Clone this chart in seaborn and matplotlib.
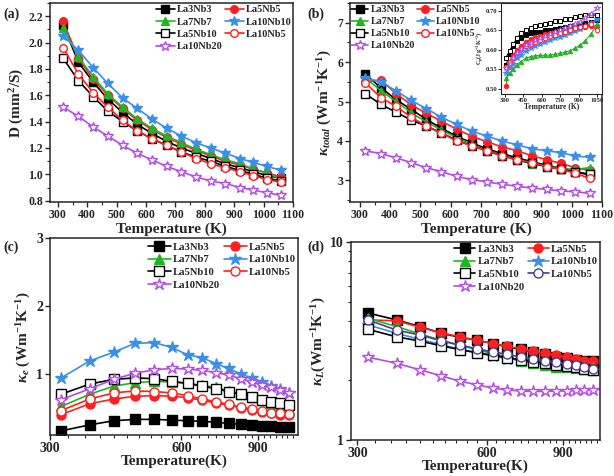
import numpy as np
import pandas as pd
import matplotlib
matplotlib.use("Agg")
import matplotlib.pyplot as plt
import seaborn as sns
from matplotlib.ticker import MultipleLocator, FixedLocator, NullFormatter, FormatStrFormatter, LogLocator

sns.set_style("ticks")
plt.rcParams['font.family'] = ['Liberation Serif', 'DejaVu Serif']
plt.rcParams['font.weight'] = 'bold'
plt.rcParams['mathtext.fontset'] = 'custom'
plt.rcParams['mathtext.rm'] = 'Liberation Serif:bold'
plt.rcParams['mathtext.it'] = 'Liberation Serif:bold:italic'
plt.rcParams['mathtext.bf'] = 'Liberation Serif:bold'

names = ["La3Nb3", "La5Nb5", "La7Nb7", "La10Nb10", "La5Nb10", "La10Nb5", "La10Nb20"]

# Temperatures (K)
T = [318, 370, 420, 470, 520, 570, 620, 670, 720, 770, 820, 870, 920, 965, 1012, 1060]
T_cp = [310, 340, 370, 400, 430, 470, 510, 550, 590, 630, 670, 710, 750, 790, 830, 870, 910, 950, 1000, 1050]

# (a) thermal diffusivity D (mm^2/s)
D_La3Nb3 = [2.13, 1.85, 1.70, 1.57, 1.47, 1.38, 1.31, 1.25, 1.20, 1.16, 1.12, 1.08, 1.05, 1.02, 0.99, 0.97]
D_La5Nb5 = [2.16, 1.88, 1.72, 1.60, 1.50, 1.41, 1.34, 1.28, 1.23, 1.18, 1.14, 1.10, 1.07, 1.04, 1.01, 0.98]
D_La7Nb7 = [2.11, 1.89, 1.74, 1.61, 1.51, 1.42, 1.35, 1.29, 1.24, 1.19, 1.15, 1.11, 1.08, 1.04, 1.01, 0.96]
D_La10Nb10 = [2.05, 1.94, 1.81, 1.69, 1.58, 1.50, 1.42, 1.35, 1.29, 1.24, 1.20, 1.16, 1.12, 1.09, 1.06, 1.03]
D_La5Nb10 = [1.88, 1.71, 1.59, 1.48, 1.40, 1.33, 1.27, 1.22, 1.17, 1.13, 1.10, 1.06, 1.03, 1.00, 0.97, 0.95]
D_La10Nb5 = [1.96, 1.76, 1.62, 1.51, 1.41, 1.33, 1.27, 1.22, 1.17, 1.12, 1.08, 1.05, 1.02, 0.99, 0.96, 0.94]
D_La10Nb20 = [1.51, 1.44, 1.36, 1.29, 1.22, 1.16, 1.11, 1.06, 1.02, 0.98, 0.95, 0.93, 0.90, 0.88, 0.86, 0.84]

# (b) total thermal conductivity
K_La3Nb3 = [5.70, 5.35, 5.05, 4.80, 4.55, 4.32, 4.12, 3.95, 3.80, 3.68, 3.57, 3.47, 3.38, 3.30, 3.22, 3.15]
K_La5Nb5 = [5.50, 5.55, 5.20, 4.92, 4.70, 4.50, 4.30, 4.12, 3.98, 3.85, 3.75, 3.62, 3.52, 3.43, 3.32, 3.25]
K_La7Nb7 = [5.60, 5.28, 5.00, 4.72, 4.48, 4.28, 4.08, 3.92, 3.75, 3.62, 3.52, 3.42, 3.35, 3.30, 3.28, 3.32]
K_La10Nb10 = [5.60, 5.50, 5.27, 5.03, 4.82, 4.60, 4.42, 4.25, 4.12, 4.00, 3.90, 3.80, 3.75, 3.70, 3.62, 3.58]
K_La5Nb10 = [5.20, 4.93, 4.73, 4.53, 4.38, 4.20, 4.02, 3.88, 3.75, 3.63, 3.52, 3.43, 3.35, 3.28, 3.20, 3.15]
K_La10Nb5 = [5.48, 5.10, 4.88, 4.60, 4.38, 4.20, 4.00, 3.88, 3.75, 3.62, 3.52, 3.45, 3.35, 3.28, 3.18, 3.05]
K_La10Nb20 = [3.75, 3.68, 3.57, 3.45, 3.32, 3.22, 3.10, 3.02, 2.96, 2.90, 2.85, 2.80, 2.77, 2.73, 2.71, 2.67]

# (b inset) heat capacity Cp
Cp_La3Nb3 = [0.560, 0.590, 0.610, 0.622, 0.630, 0.637, 0.642, 0.645, 0.647, 0.650, 0.652, 0.654, 0.656, 0.658, 0.660, 0.662, 0.665, 0.668, 0.671, 0.676]
Cp_La5Nb5 = [0.508, 0.570, 0.588, 0.600, 0.610, 0.620, 0.627, 0.632, 0.636, 0.640, 0.643, 0.645, 0.648, 0.650, 0.652, 0.654, 0.656, 0.658, 0.660, 0.662]
Cp_La7Nb7 = [0.527, 0.540, 0.552, 0.562, 0.570, 0.578, 0.583, 0.585, 0.586, 0.586, 0.587, 0.589, 0.591, 0.594, 0.598, 0.604, 0.612, 0.622, 0.640, 0.665]
Cp_La10Nb10 = [0.540, 0.553, 0.565, 0.578, 0.588, 0.598, 0.605, 0.610, 0.615, 0.620, 0.625, 0.630, 0.634, 0.638, 0.643, 0.648, 0.653, 0.660, 0.668, 0.678]
Cp_La5Nb10 = [0.580, 0.598, 0.615, 0.630, 0.642, 0.650, 0.656, 0.660, 0.664, 0.667, 0.670, 0.673, 0.675, 0.678, 0.680, 0.683, 0.686, 0.688, 0.690, 0.688]
Cp_La10Nb5 = [0.555, 0.568, 0.580, 0.592, 0.602, 0.610, 0.616, 0.621, 0.626, 0.630, 0.635, 0.639, 0.643, 0.647, 0.651, 0.655, 0.659, 0.662, 0.665, 0.650]
Cp_La10Nb20 = [0.553, 0.565, 0.578, 0.592, 0.602, 0.612, 0.618, 0.624, 0.630, 0.635, 0.640, 0.645, 0.650, 0.655, 0.660, 0.666, 0.672, 0.682, 0.692, 0.706]

# (c) electronic thermal conductivity
Ke_La3Nb3 = [0.16, 0.25, 0.31, 0.33, 0.33, 0.32, 0.31, 0.30, 0.29, 0.27, 0.26, 0.25, 0.24, 0.23, 0.22, 0.22]
Ke_La5Nb5 = [0.40, 0.56, 0.63, 0.67, 0.68, 0.67, 0.65, 0.61, 0.57, 0.54, 0.50, 0.47, 0.44, 0.42, 0.40, 0.39]
Ke_La7Nb7 = [0.52, 0.70, 0.82, 0.87, 0.89, 0.88, 0.86, 0.83, 0.80, 0.75, 0.71, 0.66, 0.62, 0.57, 0.53, 0.48]
Ke_La10Nb10 = [0.94, 1.19, 1.32, 1.45, 1.46, 1.39, 1.28, 1.24, 1.15, 1.08, 1.00, 0.94, 0.88, 0.82, 0.77, 0.72]
Ke_La5Nb10 = [0.70, 0.85, 0.92, 0.94, 0.93, 0.89, 0.86, 0.82, 0.78, 0.74, 0.70, 0.66, 0.62, 0.59, 0.57, 0.54]
Ke_La10Nb5 = [0.46, 0.63, 0.72, 0.75, 0.74, 0.72, 0.68, 0.63, 0.59, 0.55, 0.51, 0.48, 0.45, 0.43, 0.42, 0.41]
Ke_La10Nb20 = [0.62, 0.78, 0.92, 1.01, 1.06, 1.08, 1.07, 1.05, 1.02, 0.98, 0.93, 0.88, 0.84, 0.80, 0.76, 0.72]

# (d) lattice thermal conductivity
KL_La3Nb3 = [4.38, 4.04, 3.74, 3.46, 3.30, 3.19, 3.07, 2.95, 2.87, 2.78, 2.71, 2.64, 2.59, 2.55, 2.52, 2.50]
KL_La5Nb5 = [4.04, 4.00, 3.71, 3.48, 3.32, 3.19, 3.07, 2.97, 2.89, 2.80, 2.75, 2.68, 2.62, 2.57, 2.52, 2.50]
KL_La7Nb7 = [4.12, 3.74, 3.43, 3.19, 3.01, 2.86, 2.73, 2.62, 2.52, 2.44, 2.39, 2.35, 2.33, 2.30, 2.29, 2.26]
KL_La10Nb10 = [3.81, 3.46, 3.22, 3.03, 2.87, 2.75, 2.65, 2.58, 2.52, 2.47, 2.42, 2.40, 2.37, 2.35, 2.33, 2.31]
KL_La5Nb10 = [3.62, 3.32, 3.16, 2.99, 2.86, 2.76, 2.68, 2.60, 2.54, 2.49, 2.45, 2.40, 2.36, 2.33, 2.29, 2.26]
KL_La10Nb5 = [4.04, 3.59, 3.39, 3.17, 3.01, 2.89, 2.78, 2.71, 2.62, 2.57, 2.52, 2.47, 2.42, 2.38, 2.33, 2.29]
KL_La10Nb20 = [2.62, 2.44, 2.26, 2.11, 1.98, 1.90, 1.83, 1.79, 1.77, 1.76, 1.76, 1.77, 1.77, 1.78, 1.79, 1.79]

BLACK = "#000000"
RED = "#FF1F1F"
GREEN = "#22B422"
BLUE = "#3A8FEA"
PURPLE = "#B44AE8"
NAVY = "#4A3D8F"

# style: (color, marker, filled)
style = {
    "La3Nb3": (BLACK, "s", True),
    "La5Nb5": (RED, "o", True),
    "La7Nb7": (GREEN, "^", True),
    "La10Nb10": (BLUE, "*", True),
    "La5Nb10": (BLACK, "s", False),
    "La10Nb5": (RED, "o", False),
    "La10Nb20": (PURPLE, "*", False),
}

fig = plt.figure(figsize=(6.14, 4.76), dpi=100)
axA = fig.add_axes([0.0814, 0.5756, 0.3958, 0.418])
axB = fig.add_axes([0.570, 0.5756, 0.4104, 0.418])
axC = fig.add_axes([0.0814, 0.0861, 0.4039, 0.4139])
axD = fig.add_axes([0.5717, 0.0756, 0.4055, 0.416])
axI = fig.add_axes([0.8160, 0.8025, 0.1644, 0.1912])


def draw(ax, xs, series, ms=6, lw=1.2, override=None, mew=1.0):
    handles = {}
    for nm in names:
        col, mk, filled = style[nm]
        if override and nm in override:
            col = override[nm]
        size = ms * (1.35 if mk == "*" else 1.0)
        df = pd.DataFrame({"T": xs, "v": series[nm]})
        sns.lineplot(data=df, x="T", y="v", ax=ax, color=col, marker=mk,
                     markersize=size, markeredgecolor=col,
                     markerfacecolor=(col if filled else "white"),
                     markeredgewidth=mew, linewidth=lw, legend=False,
                     errorbar=None, sort=False)
        handles[nm] = ax.lines[-1]
    return handles


def legend(ax, handles, loc, bbox, fs=8, hl=1.9, cs=0.3):
    order = ["La3Nb3", "La7Nb7", "La5Nb10", "La10Nb20", "La5Nb5", "La10Nb10", "La10Nb5"]
    leg = ax.legend([handles[n] for n in order], order, ncol=2, loc=loc,
                    bbox_to_anchor=bbox, frameon=False, fontsize=fs,
                    handlelength=hl, handletextpad=0.2, columnspacing=cs,
                    labelspacing=0.3, borderaxespad=0.2, borderpad=0.2)
    for t in leg.get_texts():
        t.set_fontweight("bold")


def style_axes(ax, tfs=8.5):
    for s in ax.spines.values():
        s.set_linewidth(1.1)
        s.set_visible(True)
    ax.tick_params(which="major", direction="out", length=3.5, width=1.0,
                   labelsize=tfs, pad=1.5)
    ax.tick_params(which="minor", direction="out", length=2, width=0.8)
    for lab in ax.get_xticklabels() + ax.get_yticklabels():
        lab.set_fontweight("bold")


# ---- (a)
hA = draw(axA, T, {"La3Nb3": D_La3Nb3, "La5Nb5": D_La5Nb5, "La7Nb7": D_La7Nb7,
                   "La10Nb10": D_La10Nb10, "La5Nb10": D_La5Nb10, "La10Nb5": D_La10Nb5,
                   "La10Nb20": D_La10Nb20}, ms=5.5)
axA.set_xlim(273, 1100)
axA.set_ylim(0.79, 2.3)
axA.xaxis.set_major_locator(MultipleLocator(100))
axA.xaxis.set_minor_locator(MultipleLocator(50))
axA.yaxis.set_major_locator(MultipleLocator(0.2))
axA.yaxis.set_minor_locator(MultipleLocator(0.1))
axA.yaxis.set_major_formatter(FormatStrFormatter("%.1f"))
axA.set_xlabel("Temperature (K)", fontsize=11, fontweight="bold", labelpad=1)
axA.set_ylabel(r"D $\mathregular{(mm^{2}/S)}$", fontsize=11, fontweight="bold", labelpad=2)
legend(axA, hA, "upper right", (1.01, 1.01), fs=7.4, hl=1.8, cs=0.25)
style_axes(axA)

# ---- (b)
hB = draw(axB, T, {"La3Nb3": K_La3Nb3, "La5Nb5": K_La5Nb5, "La7Nb7": K_La7Nb7,
                   "La10Nb10": K_La10Nb10, "La5Nb10": K_La5Nb10, "La10Nb5": K_La10Nb5,
                   "La10Nb20": K_La10Nb20}, ms=5.5)
axB.set_xlim(268, 1100)
axB.set_ylim(2.45, 7.5)
axB.xaxis.set_major_locator(MultipleLocator(100))
axB.xaxis.set_minor_locator(MultipleLocator(50))
axB.yaxis.set_major_locator(MultipleLocator(1))
axB.yaxis.set_minor_locator(MultipleLocator(0.5))
axB.set_xlabel("Temperature (K)", fontsize=11, fontweight="bold", labelpad=1)
axB.set_ylabel(r"$\kappa_{total}$ (Wm$^{-1}$K$^{-1}$)", fontsize=11, fontweight="bold", labelpad=2)
legend(axB, hB, "upper left", (-0.01, 1.01), fs=7.2, hl=1.7, cs=0.2)
style_axes(axB)

# ---- inset
draw(axI, T_cp, {"La3Nb3": Cp_La3Nb3, "La5Nb5": Cp_La5Nb5, "La7Nb7": Cp_La7Nb7,
                 "La10Nb10": Cp_La10Nb10, "La5Nb10": Cp_La5Nb10, "La10Nb5": Cp_La10Nb5,
                 "La10Nb20": Cp_La10Nb20}, ms=3.2, lw=0.8, mew=0.7)
axI.set_xlim(270, 1090)
axI.set_ylim(0.487, 0.72)
axI.xaxis.set_major_locator(FixedLocator([300, 450, 600, 750, 900, 1050]))
axI.yaxis.set_major_locator(MultipleLocator(0.05))
axI.yaxis.set_major_formatter(FormatStrFormatter("%.2f"))
axI.set_xlabel("Temperature (K)", fontsize=5.5, fontweight="bold", labelpad=0.5)
axI.set_ylabel(r"C$_p$(Jg$^{-1}$K$^{-1}$)", fontsize=4.5, fontweight="bold", labelpad=0.3)
style_axes(axI, tfs=4.8)
axI.tick_params(which="major", length=2, width=0.7, pad=0.6)
for s in axI.spines.values():
    s.set_linewidth(0.8)

# ---- (c)
hC = draw(axC, T, {"La3Nb3": Ke_La3Nb3, "La5Nb5": Ke_La5Nb5, "La7Nb7": Ke_La7Nb7,
                   "La10Nb10": Ke_La10Nb10, "La5Nb10": Ke_La5Nb10, "La10Nb5": Ke_La10Nb5,
                   "La10Nb20": Ke_La10Nb20}, ms=6.5)
axC.set_xscale("log")
axC.set_xlim(300, 1110)
axC.set_ylim(0.1, 3.0)
axC.xaxis.set_major_locator(FixedLocator([300, 600, 900]))
axC.xaxis.set_minor_locator(FixedLocator(list(range(330, 1110, 30))))
axC.xaxis.set_major_formatter(FormatStrFormatter("%d"))
axC.xaxis.set_minor_formatter(NullFormatter())
axC.yaxis.set_major_locator(FixedLocator([1, 2, 3]))
axC.yaxis.set_major_formatter(FormatStrFormatter("%d"))
axC.set_xlabel("Temperature(K)", fontsize=11, fontweight="bold", labelpad=0)
axC.set_ylabel(r"$\kappa_e$ (Wm$^{-1}$K$^{-1}$)", fontsize=11, fontweight="bold", labelpad=2)
legend(axC, hC, "upper right", (1.01, 1.0), fs=7.7, hl=2.2)
style_axes(axC, tfs=10)

# ---- (d)
hD = draw(axD, T, {"La3Nb3": KL_La3Nb3, "La5Nb5": KL_La5Nb5, "La7Nb7": KL_La7Nb7,
                   "La10Nb10": KL_La10Nb10, "La5Nb10": KL_La5Nb10, "La10Nb5": KL_La10Nb5,
                   "La10Nb20": KL_La10Nb20}, ms=6.5, override={"La10Nb5": NAVY})
axD.set_xscale("log")
axD.set_yscale("log")
axD.set_xlim(290, 1100)
axD.set_ylim(1, 10)
axD.xaxis.set_major_locator(FixedLocator([300, 600, 900]))
axD.xaxis.set_minor_locator(FixedLocator(list(range(330, 1100, 30))))
axD.xaxis.set_major_formatter(FormatStrFormatter("%d"))
axD.xaxis.set_minor_formatter(NullFormatter())
axD.yaxis.set_major_locator(FixedLocator([1, 10]))
axD.yaxis.set_major_formatter(FormatStrFormatter("%d"))
axD.yaxis.set_minor_locator(LogLocator(base=10, subs=np.arange(2, 10)))
axD.yaxis.set_minor_formatter(NullFormatter())
axD.set_xlabel("Temperature(K)", fontsize=11, fontweight="bold", labelpad=0)
axD.set_ylabel(r"$\kappa_L$(Wm$^{-1}$K$^{-1}$)", fontsize=11, fontweight="bold", labelpad=2)
legend(axD, hD, "upper right", (1.01, 1.01), fs=7.7, hl=2.0)
style_axes(axD, tfs=10)

# panel letters
for lab, x, y in [("(a)", 0.005, 0.985), ("(b)", 0.5, 0.985),
                  ("(c)", 0.005, 0.495), ("(d)", 0.5, 0.495)]:
    fig.text(x, y, lab, fontsize=10, fontweight="bold", va="top", ha="left")

fig.savefig("out.png", dpi=100)
